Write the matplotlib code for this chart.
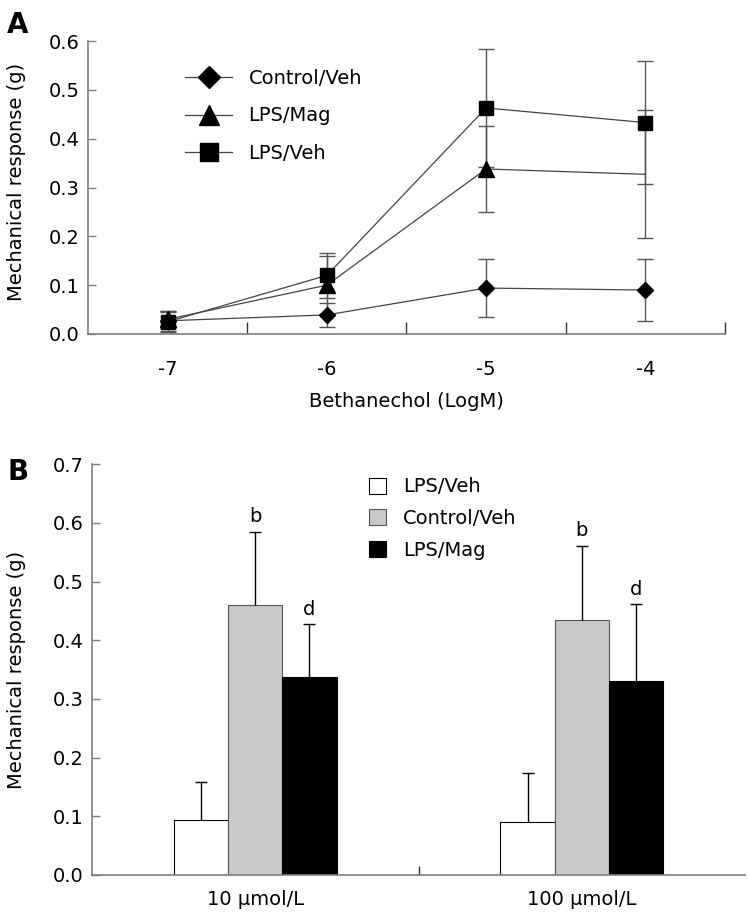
import matplotlib
matplotlib.use("Agg")
import numpy as np
from matplotlib import pyplot as plt
from matplotlib.patches import Patch
from matplotlib.lines import Line2D

# panel A: bethanechol dose response
log_dose = [-7, -6, -5, -4]
ctrl_veh = [0.027, 0.039, 0.094, 0.090]
ctrl_veh_err = [0.020, 0.024, 0.060, 0.064]
lps_mag = [0.030, 0.100, 0.338, 0.327]
lps_mag_err = [0.018, 0.060, 0.089, 0.131]
lps_veh = [0.025, 0.120, 0.463, 0.433]
lps_veh_err = [0.020, 0.046, 0.121, 0.126]

# panel B: bars at two concentrations
groups = ["10 \u03bcmol/L", "100 \u03bcmol/L"]
bar_labels = ["LPS/Veh", "Control/Veh", "LPS/Mag"]
bar_vals = [[0.094, 0.090], [0.460, 0.434], [0.337, 0.330]]
bar_errs = [[0.064, 0.083], [0.125, 0.127], [0.090, 0.131]]
bar_marks = [["", ""], ["b", "b"], ["d", "d"]]

plt.rcParams['font.family'] = ['DejaVu Sans']
FS = 14
GRAY = '#7f7f7f'


def style_axes(ax):
    for s in ['top', 'right']:
        ax.spines[s].set_visible(False)
    for s in ['left', 'bottom']:
        ax.spines[s].set_color(GRAY)
        ax.spines[s].set_linewidth(1.2)
    ax.tick_params(axis='y', direction='in', length=6, width=1, color=GRAY,
                   labelsize=FS, pad=6)


def panel_a(ax):
    series = [
        ("Control/Veh", ctrl_veh, ctrl_veh_err, 'D', 8.5, None),
        ("LPS/Mag", lps_mag, lps_mag_err, '^', 11, [0, 1, 2]),
        ("LPS/Veh", lps_veh, lps_veh_err, 's', 10, None),
    ]
    for name, y, err, mk, ms, every in series:
        ax.errorbar(log_dose, y, yerr=err, fmt='none', ecolor='#555555',
                    elinewidth=1, capsize=5.5, capthick=1, zorder=2)
    for name, y, err, mk, ms, every in series:
        ax.plot(log_dose, y, color='#444444', lw=0.9, marker=mk, ms=ms,
                mfc='black', mec='black', markevery=every, zorder=3)

    ax.set_xlim(-7.5, -3.5)
    ax.set_ylim(0, 0.6)
    ax.set_yticks(np.arange(0, 0.61, 0.1))
    ax.set_yticklabels(["{:.1f}".format(v) for v in np.arange(0, 0.61, 0.1)])
    ax.set_xticks(log_dose)
    ax.set_xticklabels([str(v) for v in log_dose])
    ax.set_xticks([-6.5, -5.5, -4.5, -3.5], minor=True)
    ax.tick_params(axis='x', which='major', length=0, labelsize=FS, pad=19)
    ax.tick_params(axis='x', which='minor', direction='in', length=8.5,
                   width=1, color='#333333')
    style_axes(ax)
    ax.set_xlabel("Bethanechol (LogM)", fontsize=FS, labelpad=9)
    ax.set_ylabel("Mechanical response (g)", fontsize=FS)
    ax.yaxis.set_label_coords(-0.097, 0.52)

    handles = [Line2D([], [], color='#444444', lw=0.9, marker=m, ms=s,
                      mfc='black', mec='black')
               for m, s in [('D', 8.5), ('^', 11), ('s', 10)]]
    ax.legend(handles, ["Control/Veh", "LPS/Mag", "LPS/Veh"], loc='upper left',
              bbox_to_anchor=(0.153, 0.905), frameon=False, fontsize=FS,
              markerscale=1.3, handlelength=2.4, handletextpad=0.85,
              labelspacing=0.95, borderpad=0, borderaxespad=0)


def panel_b(ax):
    x = np.arange(len(groups))
    w = 0.166
    colors = ['white', '#c8c8c8', 'black']
    edges = ['black', '#555555', 'black']
    for i in range(3):
        xs = x + (i - 1) * w
        ax.bar(xs, bar_vals[i], width=w, color=colors[i], edgecolor=edges[i],
               linewidth=0.8, zorder=2)
        eb = ax.errorbar(xs, bar_vals[i], yerr=[np.zeros(len(xs)), bar_errs[i]],
                         fmt='none', ecolor='black', elinewidth=1, capsize=4.5,
                         capthick=1, zorder=3)
        eb[1][0].set_visible(False)  # no cap on the bar top
        for xi, v, e, t in zip(xs, bar_vals[i], bar_errs[i], bar_marks[i]):
            if t:
                ax.annotate(t, (xi, v + e), xytext=(0, 4), textcoords='offset points',
                            ha='center', va='bottom', fontsize=FS)

    ax.set_xlim(-0.5, 1.5)
    ax.set_ylim(0, 0.7)
    ax.set_yticks(np.arange(0, 0.71, 0.1))
    ax.set_yticklabels(["{:.1f}".format(v) for v in np.arange(0, 0.71, 0.1)])
    ax.set_xticks(x)
    ax.set_xticklabels(groups)
    ax.set_xticks([0.5], minor=True)
    ax.tick_params(axis='x', which='major', length=0, labelsize=FS, pad=11)
    ax.tick_params(axis='x', which='minor', direction='in', length=6.5,
                   width=1, color='#333333')
    style_axes(ax)
    ax.set_ylabel("Mechanical response (g)", fontsize=FS)
    ax.yaxis.set_label_coords(-0.101, 0.5)

    handles = [Patch(facecolor=c, edgecolor=e, linewidth=0.8)
               for c, e in zip(colors, edges)]
    ax.legend(handles, bar_labels, loc='upper left', bbox_to_anchor=(0.424, 0.968),
              frameon=False, fontsize=FS, handlelength=0.9, handleheight=0.9,
              handletextpad=0.85, labelspacing=0.65, borderpad=0, borderaxespad=0)


if __name__ == '__main__':
    fig = plt.figure(figsize=(7.48, 9.21), dpi=100)
    ax1 = fig.add_axes([0.1176, 0.6374, 0.8516, 0.318])
    ax2 = fig.add_axes([0.123, 0.050, 0.873, 0.446])
    panel_a(ax1)
    panel_b(ax2)
    fig.text(7 / 748, 1 - 33 / 921, "A", fontsize=20, fontweight='bold',
             ha='left', va='baseline')
    fig.text(8 / 748, 1 - 480 / 921, "B", fontsize=20, fontweight='bold',
             ha='left', va='baseline')
    fig.savefig("out.png", dpi=100)
